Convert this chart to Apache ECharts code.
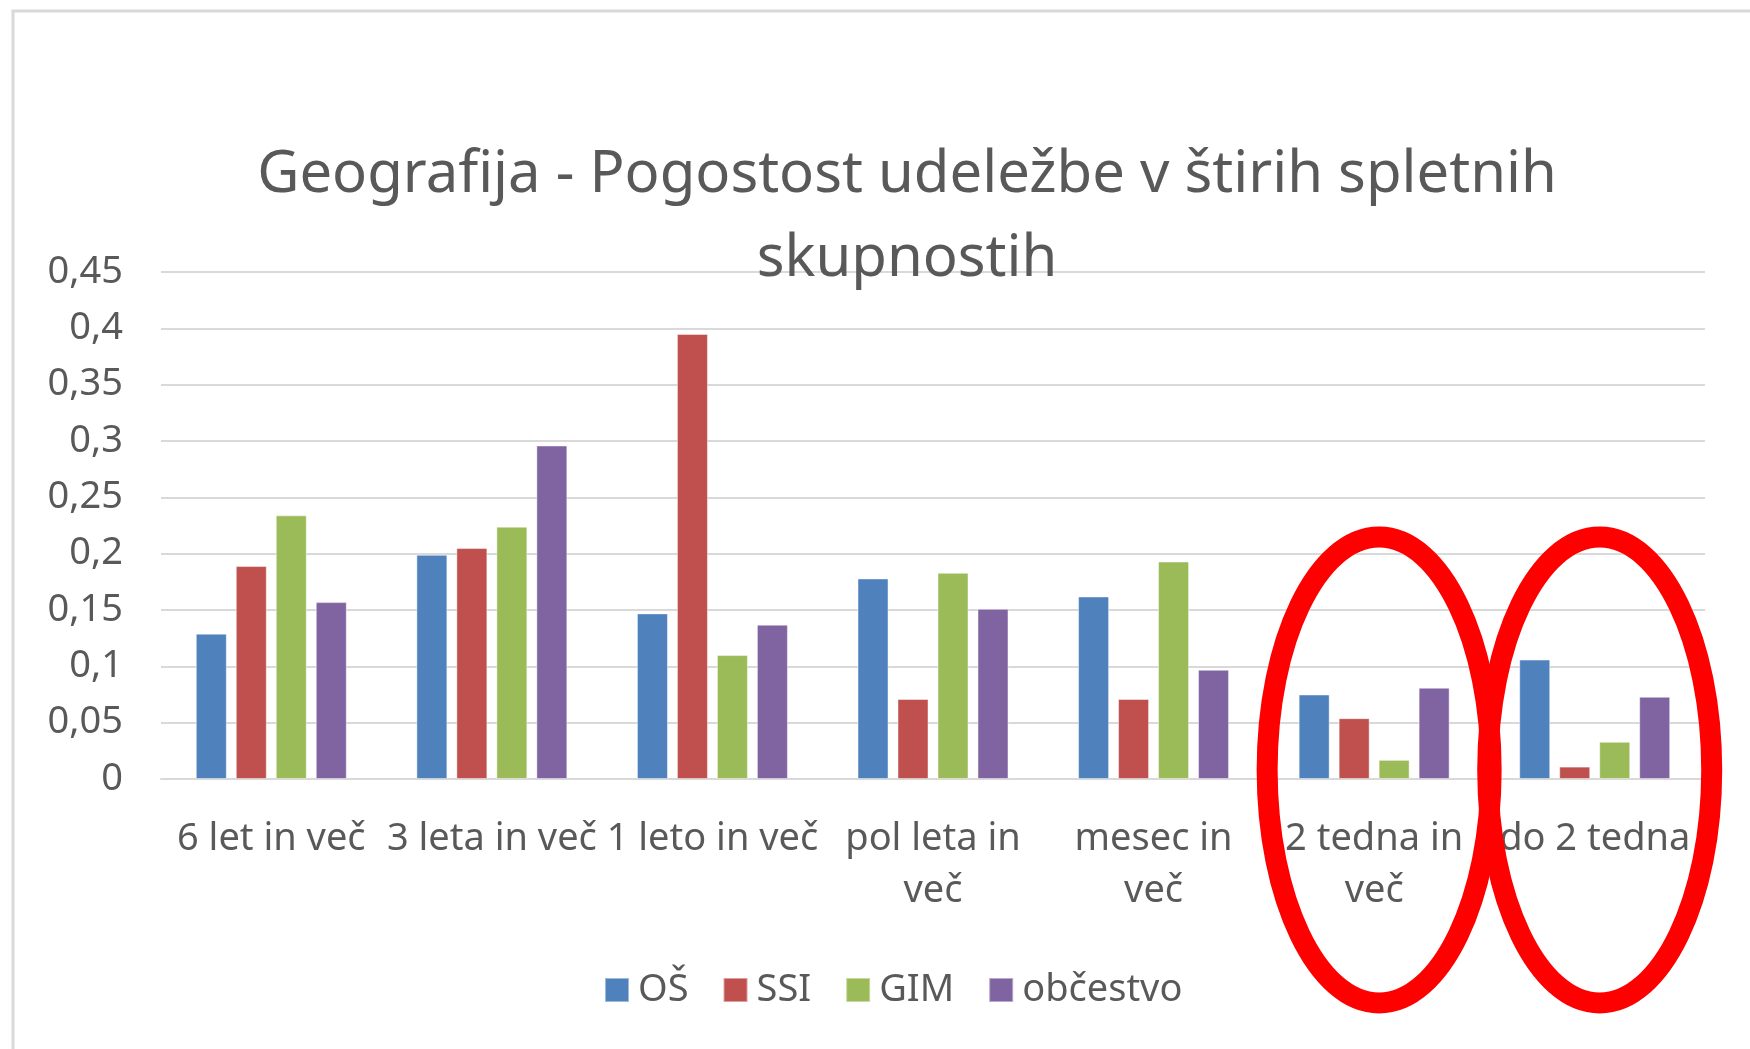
<!DOCTYPE html>
<html lang="sl">
<head>
  <meta charset="UTF-8">
  <script src="https://cdn.jsdelivr.net/npm/echarts@6/dist/echarts.min.js"></script>
  <style>
    html, body { margin: 0; padding: 0; background: #fff; }
    #main { width: 1750px; height: 1049px; }
  </style>
  <title>Geografija</title>
</head>
<body>
  <div id="main"></div>
  <script>
    // data
    var categories = ['6 let in več', '3 leta in več', '1 leto in več', 'pol leta in več', 'mesec in več', '2 tedna in več', 'do 2 tedna'];
    var tickLabels = ['6 let in več', '3 leta in več', '1 leto in več', 'pol leta in\nveč', 'mesec in\nveč', '2 tedna in\nveč', 'do 2 tedna'];
    var seriesNames = ['OŠ', 'SSI', 'GIM', 'občestvo'];
    var osValues = [0.129, 0.199, 0.147, 0.178, 0.162, 0.075, 0.106];
    var ssiValues = [0.189, 0.205, 0.395, 0.071, 0.071, 0.054, 0.011];
    var gimValues = [0.234, 0.224, 0.110, 0.183, 0.193, 0.017, 0.033];
    var obcValues = [0.157, 0.296, 0.137, 0.151, 0.097, 0.081, 0.073];
    var circled = ['2 tedna in več', 'do 2 tedna'];

    var colors = ['#4F81BD', '#C0504D', '#9BBB59', '#8064A2'];
    var font = '"Noto Sans", "Open Sans", sans-serif';
    var textColor = '#595959';

    var chart = echarts.init(document.getElementById('main'));

    function barSeries(name, data) {
      return {
        name: name,
        type: 'bar',
        data: data,
        barWidth: 31,
        barGap: '29%',
        itemStyle: { borderColor: 'rgba(255,255,255,0.45)', borderWidth: 1 }
      };
    }

    var option = {
      animation: false,
      color: colors,
      title: {
        text: 'Geografija - Pogostost udeležbe v štirih spletnih\nskupnostih',
        left: 902,
        top: 128,
        textAlign: 'center',
        textStyle: {
          fontFamily: font,
          fontSize: 58,
          fontWeight: 'normal',
          color: textColor,
          lineHeight: 84
        }
      },
      legend: {
        data: seriesNames,
        left: 599,
        top: 966,
        itemWidth: 24,
        itemHeight: 24,
        itemGap: 34,
        icon: 'rect',
        textStyle: { fontFamily: font, fontSize: 38, color: textColor, padding: [0, 0, 0, 4] }
      },
      grid: { left: 161, right: 45, top: 272, bottom: 270, containLabel: false },
      xAxis: {
        type: 'category',
        data: categories,
        axisLine: { lineStyle: { color: '#d9d9d9', width: 2 } },
        axisTick: { show: false },
        axisLabel: {
          interval: 0,
          margin: 34,
          fontFamily: font,
          fontSize: 38,
          lineHeight: 52,
          color: textColor,
          formatter: function (v, i) { return tickLabels[i]; }
        }
      },
      yAxis: {
        type: 'value',
        min: 0,
        max: 0.45,
        interval: 0.05,
        axisLine: { show: false },
        axisTick: { show: false },
        splitLine: { lineStyle: { color: '#d9d9d9', width: 2 } },
        axisLabel: {
          margin: 38,
          fontFamily: font,
          fontSize: 38,
          color: textColor,
          formatter: function (v) { return String(+v.toFixed(2)).replace('.', ','); }
        }
      },
      series: [
        barSeries(seriesNames[0], osValues),
        barSeries(seriesNames[1], ssiValues),
        barSeries(seriesNames[2], gimValues),
        barSeries(seriesNames[3], obcValues)
      ]
    };
    chart.setOption(option);

    // frame of the screenshot and red marks round the last two groups
    var y0 = chart.convertToPixel({ yAxisIndex: 0 }, 0);
    var marks = circled.map(function (c) {
      var cx = chart.convertToPixel({ xAxisIndex: 0 }, c);
      return {
        type: 'ellipse',
        shape: { cx: cx + 5, cy: y0 - 9, rx: 112, ry: 233 },
        style: { fill: null, stroke: '#ff0000', lineWidth: 21 },
        z: 100
      };
    });
    marks.push({
      type: 'polyline',
      shape: { points: [[13, 1049], [13, 11], [1750, 11]] },
      style: { fill: null, stroke: '#d9d9d9', lineWidth: 3 },
      z: 100
    });
    chart.setOption({ graphic: marks });
  </script>
</body>
</html>
